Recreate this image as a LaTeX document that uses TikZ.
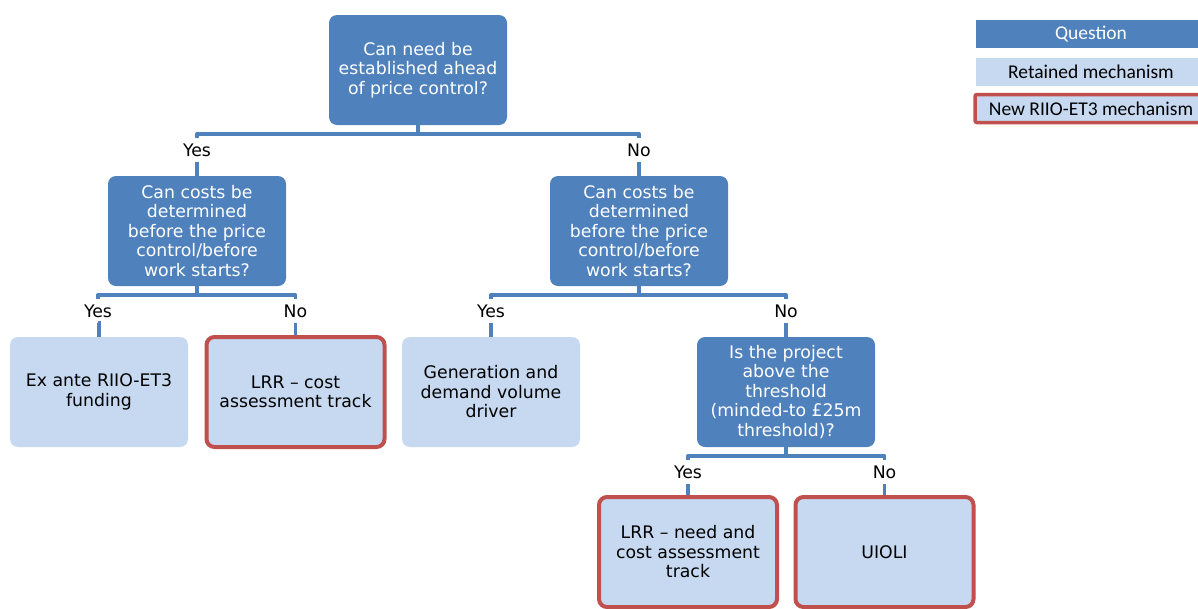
\documentclass[tikz,border=0pt]{standalone}
\usepackage{fontspec}
\setmainfont{DejaVu Sans}
\newfontfamily\legendfont{Carlito}
\definecolor{qblue}{HTML}{4F81BD}
\definecolor{lblue}{HTML}{C6D9F0}
\definecolor{nred}{HTML}{C0504D}
\begin{document}
\begin{tikzpicture}[x=1pt,y=-1pt,
  box/.style={rectangle,rounded corners=8pt,minimum width=178pt,minimum height=110pt,
    align=center,inner sep=2pt,font=\fontsize{17.3}{19.5}\selectfont},
  question/.style={box,fill=qblue,text=white},
  retained/.style={box,fill=lblue,text=black},
  newmech/.style={box,fill=lblue,text=black,draw=nred,line width=4pt},
  lbl/.style={inner sep=0pt,minimum height=24pt,font=\fontsize{17.3}{19.5}\selectfont},
  conn/.style={draw=qblue,line width=3.5pt},
  leg/.style={rectangle,minimum width=230pt,minimum height=28pt,inner sep=0pt,
    font=\legendfont\fontsize{19.5}{21}\selectfont}
]
\clip (0,0) rectangle (1198,608);
\fill[white] (0,0) rectangle (1198,608);

% question nodes
\node[question] (q1) at (418,70) {Can need be\\established ahead\\of price control?};
\node[question] (q2) at (197,231) {Can costs be\\determined\\before the price\\control/before\\work starts?};
\node[question] (q3) at (639,231) {Can costs be\\determined\\before the price\\control/before\\work starts?};
\node[question] (q4) at (786,392) {Is the project\\above the\\threshold\\(minded-to £25m\\threshold)?};

% outcomes
\node[retained] (l1) at (99,392) {Ex ante RIIO-ET3\\funding};
\node[newmech] (l2) at (295.5,392) {LRR – cost\\assessment track};
\node[retained] (l3) at (491,392) {Generation and\\demand volume\\driver};
\node[newmech] (l4) at (688,552) {LRR – need and\\cost assessment\\track};
\node[newmech] (l5) at (884.5,552) {UIOLI};

% labels
\node[lbl] (y1) at (197,150) {Yes};
\node[lbl] (n1) at (639,150) {No};
\node[lbl] (y2) at (98,311) {Yes};
\node[lbl] (n2) at (295.5,311) {No};
\node[lbl] (y3) at (491,311) {Yes};
\node[lbl] (n3) at (786,311) {No};
\node[lbl] (y4) at (688,472) {Yes};
\node[lbl] (n4) at (884.5,472) {No};

% connectors
\foreach \p/\a/\b in {q1/y1/n1, q2/y2/n2, q3/y3/n3, q4/y4/n4}{
  \draw[conn] (\p.south) -- ([yshift=4pt]\p.south |- \a.north);
  \draw[conn,line join=round] (\a.north) -- ([yshift=4pt]\a.north) -- ([yshift=4pt]\b.north) -- (\b.north);
}
\foreach \a/\c in {y1/q2, n1/q3, y2/l1, n2/l2, y3/l3, n3/q4, y4/l4, n4/l5}{
  \draw[conn] (\a.south) -- (\a.south -| \c.north) -- (\c.north);
}

% legend
\node[leg,fill=qblue,text=white] (lq) at (1091,34) {Question};
\node[leg,fill=lblue] (lr) at (1091,71.5) {Retained mechanism};
\node[leg,fill=lblue,draw=nred,line width=3.5pt,rounded corners=2pt,minimum width=250pt] (ln) at (1100,108.5) {\hspace*{-18pt}New RIIO-ET3 mechanism};
\end{tikzpicture}
\end{document}
